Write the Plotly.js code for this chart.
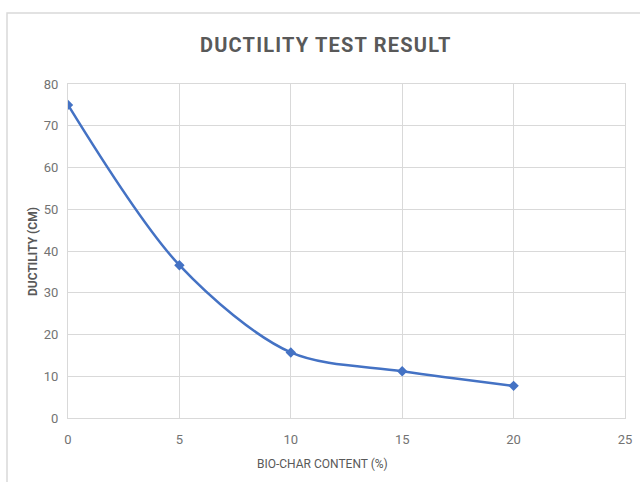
<!DOCTYPE html>
<html>
<head>
<meta charset="utf-8">
<script src="https://cdn.plot.ly/plotly-3.0.1.min.js"></script>
<style>
html,body{margin:0;padding:0;background:#fff;}
#chart{width:640px;height:482px;}
.gtitle{letter-spacing:1.2px;}
</style>
</head>
<body>
<div id="chart"></div>
<script>
const bioCharContent = [0, 5, 10, 15, 20];
const ductility = [75, 36.6, 15.7, 11.2, 7.7];
const xTicks = [0, 5, 10, 15, 20, 25];
const yTicks = [0, 10, 20, 30, 40, 50, 60, 70, 80];

const trace = {
  x: bioCharContent,
  y: ductility,
  type: 'scatter',
  mode: 'lines+markers',
  line: {color: '#4472C4', width: 2.5, shape: 'spline', smoothing: 0.9},
  marker: {symbol: 'diamond', size: 8, color: '#4472C4'},
  hoverinfo: 'x+y'
};

const axisFont = 'Roboto, sans-serif';

const layout = {
  width: 640, height: 482,
  margin: {l: 68, r: 15, t: 84, b: 64},
  paper_bgcolor: '#ffffff',
  plot_bgcolor: '#ffffff',
  showlegend: false,
  title: {
    text: 'DUCTILITY TEST RESULT',
    font: {family: axisFont, size: 20, color: '#595959', weight: 'bold'},
    x: 0.509, xanchor: 'center', y: 0.907, yanchor: 'middle'
  },
  xaxis: {
    range: [0, 25],
    tickvals: xTicks,
    ticktext: xTicks.map(String),
    showgrid: true, gridcolor: '#d9d9d9', gridwidth: 1,
    zeroline: false,
    showline: true, linecolor: '#d9d9d9', linewidth: 1, mirror: true,
    ticks: 'outside', ticklen: 9, tickcolor: 'rgba(0,0,0,0)',
    tickfont: {family: axisFont, size: 13, color: '#737373'}
  },
  yaxis: {
    range: [0, 80],
    tickvals: yTicks,
    showgrid: true, gridcolor: '#d9d9d9', gridwidth: 1,
    zeroline: false,
    showline: true, linecolor: '#d9d9d9', linewidth: 1, mirror: true,
    ticks: 'outside', ticklen: 6, tickcolor: 'rgba(0,0,0,0)',
    tickfont: {family: axisFont, size: 13, color: '#737373'}
  },
  annotations: [
    {text: 'BIO-CHAR CONTENT (%)', xref: 'paper', yref: 'paper',
     x: (322 - 68) / 557, y: (418 - 464) / 334, xanchor: 'center', yanchor: 'middle',
     showarrow: false, font: {family: axisFont, size: 12, color: '#595959'}},
    {text: '<b>DUCTILITY (CM)</b>', xref: 'paper', yref: 'paper',
     x: (33 - 68) / 557, y: (418 - 252) / 334, xanchor: 'center', yanchor: 'middle',
     textangle: -90,
     showarrow: false, font: {family: axisFont, size: 12, color: '#595959'}}
  ],
  shapes: [{
    type: 'rect', xref: 'paper', yref: 'paper', layer: 'below',
    x0: -0.1095, x1: 1.2, y0: -0.5, y1: 1.2126,
    line: {color: '#d9d9d9', width: 1.5}, fillcolor: 'rgba(0,0,0,0)'
  }]
};

Plotly.newPlot('chart', [trace], layout, {displayModeBar: false, staticPlot: true});
</script>
</body>
</html>
